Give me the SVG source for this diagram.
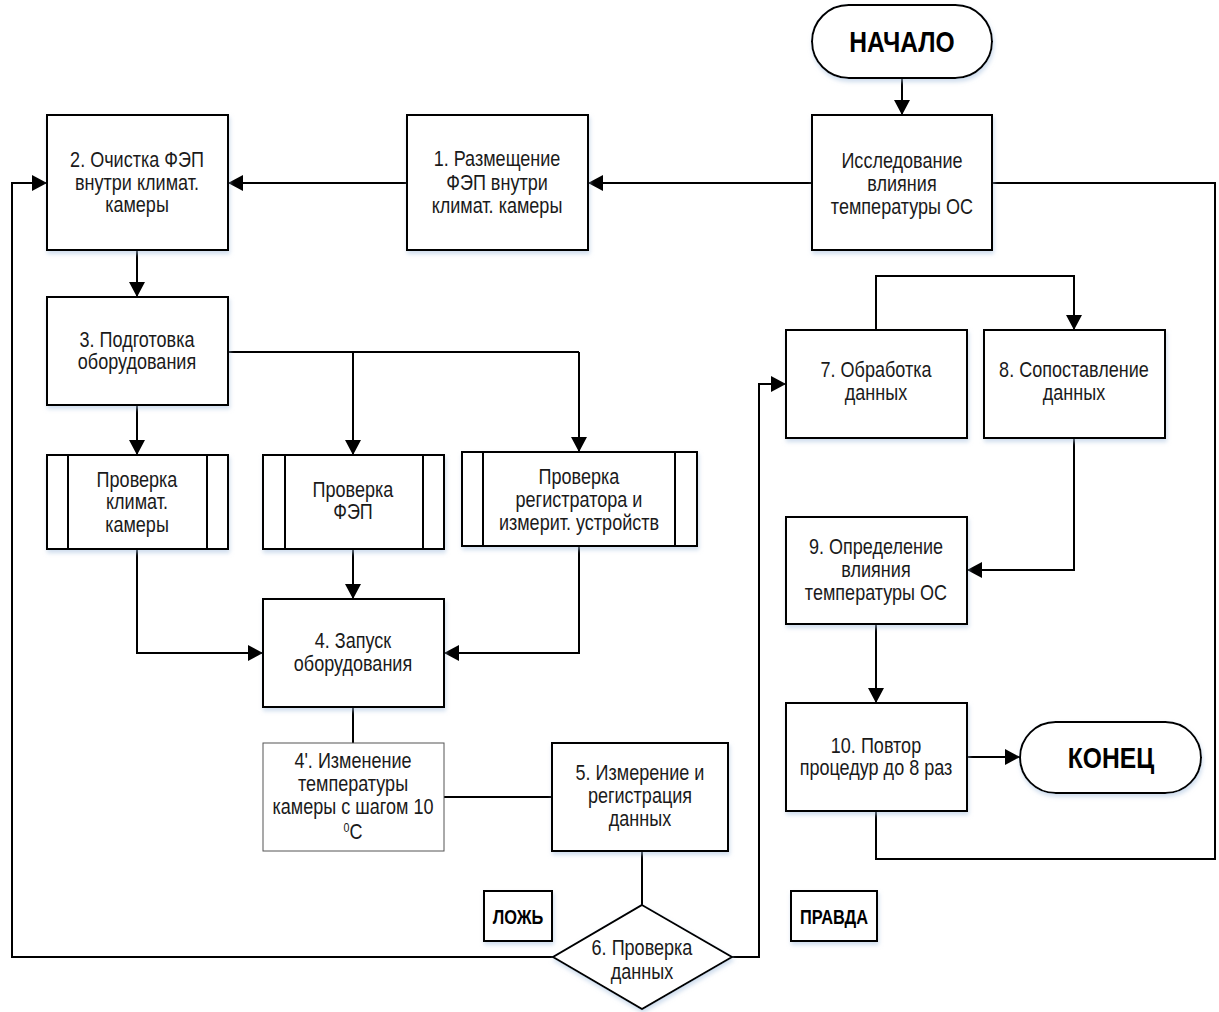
<svg xmlns="http://www.w3.org/2000/svg" width="1219" height="1012" viewBox="0 0 1219 1012">
  <style>
    .box { fill: #ffffff; stroke: #000000; stroke-width: 2; filter: url(#shade); }
    .thin { fill: #ffffff; stroke: #555555; stroke-width: 1; }
    .sub { fill: none; stroke: #000000; stroke-width: 2; }
    .t { font-family: "Liberation Sans", Arial, sans-serif; font-size: 22px; fill: #1a1a1a; text-anchor: middle; }
    .b { font-family: "Liberation Sans", Arial, sans-serif; font-weight: bold; fill: #000000; text-anchor: middle; }
    .line { fill: none; stroke: #000000; stroke-width: 2; }
    .arr { fill: none; stroke: #000000; stroke-width: 2; marker-end: url(#head); }
  </style>
  <defs>
    <marker id="head" markerUnits="userSpaceOnUse" markerWidth="16" markerHeight="16" refX="15" refY="8" orient="auto">
      <path d="M0,0 L15,8 L0,16 z" fill="#000000"/>
    </marker>
    <filter id="shade" x="-10%" y="-10%" width="125%" height="130%">
      <feDropShadow dx="1" dy="3" stdDeviation="2" flood-color="#a9c1df" flood-opacity="0.55"/>
    </filter>
  </defs>
  <rect width="1219" height="1012" fill="#ffffff"/>

  <!-- connectors -->
  <g id="connectors">
    <path class="arr" d="M902,78 V115"/>
    <path class="arr" d="M812,183 H588"/>
    <path class="line" d="M992,183 H1215 V859 H876 V811"/>
    <path class="arr" d="M407,183 H228"/>
    <path class="arr" d="M137,250 V297"/>
    <path class="arr" d="M137,405 V455"/>
    <path class="line" d="M228,352 H579"/>
    <path class="arr" d="M353,352 V455"/>
    <path class="arr" d="M579,352 V452"/>
    <path class="arr" d="M137,549 V653 H263"/>
    <path class="arr" d="M353,549 V599"/>
    <path class="arr" d="M579,546 V653 H444"/>
    <path class="line" d="M353,707 V743"/>
    <path class="line" d="M444,797 H552"/>
    <path class="line" d="M642,851 V905"/>
    <path class="arr" d="M553,957 H12 V183 H47"/>
    <path class="arr" d="M732,957 H759 V384 H786"/>
    <path class="arr" d="M876,330 V276 H1074 V330"/>
    <path class="arr" d="M1074,438 V570 H967"/>
    <path class="arr" d="M876,624 V703"/>
    <path class="arr" d="M967,757 H1020"/>
  </g>

  <!-- labels are condensed horizontally about each node's centre line -->
  <g id="start">
    <rect class="box" x="812" y="5" width="180" height="73" rx="36.5"/>
    <g transform="matrix(0.82 0 0 1 162.36 0)">
      <text class="b" x="902" y="52" font-size="30">НАЧАЛО</text>
    </g>
  </g>

  <g id="study">
    <rect class="box" x="812" y="115" width="180" height="135"/>
    <g transform="matrix(0.82 0 0 1 162.36 0)">
      <text class="t" x="902" y="168">Исследование</text>
      <text class="t" x="902" y="191">влияния</text>
      <text class="t" x="902" y="214">температуры ОС</text>
    </g>
  </g>

  <g id="step1">
    <rect class="box" x="407" y="115" width="181" height="135"/>
    <g transform="matrix(0.82 0 0 1 89.46 0)">
      <text class="t" x="497" y="166">1. Размещение</text>
      <text class="t" x="497" y="190">ФЭП внутри</text>
      <text class="t" x="497" y="213">климат. камеры</text>
    </g>
  </g>

  <g id="step2">
    <rect class="box" x="47" y="115" width="181" height="135"/>
    <g transform="matrix(0.82 0 0 1 24.66 0)">
      <text class="t" x="137" y="167">2. Очистка ФЭП</text>
      <text class="t" x="137" y="190">внутри климат.</text>
      <text class="t" x="137" y="212">камеры</text>
    </g>
  </g>

  <g id="step3">
    <rect class="box" x="47" y="297" width="181" height="108"/>
    <g transform="matrix(0.82 0 0 1 24.66 0)">
      <text class="t" x="137" y="347">3. Подготовка</text>
      <text class="t" x="137" y="369">оборудования</text>
    </g>
  </g>

  <g id="check-chamber">
    <rect class="box" x="47" y="455" width="181" height="94"/>
    <path class="sub" d="M68,455 V549 M207,455 V549"/>
    <g transform="matrix(0.82 0 0 1 24.66 0)">
      <text class="t" x="137" y="487">Проверка</text>
      <text class="t" x="137" y="509">климат.</text>
      <text class="t" x="137" y="532">камеры</text>
    </g>
  </g>

  <g id="check-pv">
    <rect class="box" x="263" y="455" width="181" height="94"/>
    <path class="sub" d="M285,455 V549 M423,455 V549"/>
    <g transform="matrix(0.82 0 0 1 63.54 0)">
      <text class="t" x="353" y="497">Проверка</text>
      <text class="t" x="353" y="519">ФЭП</text>
    </g>
  </g>

  <g id="check-logger">
    <rect class="box" x="462" y="452" width="235" height="94"/>
    <path class="sub" d="M483,452 V546 M675,452 V546"/>
    <g transform="matrix(0.82 0 0 1 104.22 0)">
      <text class="t" x="579" y="484">Проверка</text>
      <text class="t" x="579" y="507">регистратора и</text>
      <text class="t" x="579" y="530">измерит. устройств</text>
    </g>
  </g>

  <g id="step4">
    <rect class="box" x="263" y="599" width="181" height="108"/>
    <g transform="matrix(0.82 0 0 1 63.54 0)">
      <text class="t" x="353" y="648">4. Запуск</text>
      <text class="t" x="353" y="671">оборудования</text>
    </g>
  </g>

  <g id="step4a">
    <rect class="thin" x="263" y="743" width="181" height="108"/>
    <g transform="matrix(0.82 0 0 1 63.54 0)">
      <text class="t" x="353" y="768">4'. Изменение</text>
      <text class="t" x="353" y="791">температуры</text>
      <text class="t" x="353" y="814">камеры с шагом 10</text>
      <text class="t" x="353" y="839"><tspan font-size="13" dy="-7">0</tspan><tspan dy="7">C</tspan></text>
    </g>
  </g>

  <g id="step5">
    <rect class="box" x="552" y="743" width="176" height="108"/>
    <g transform="matrix(0.82 0 0 1 115.2 0)">
      <text class="t" x="640" y="780">5. Измерение и</text>
      <text class="t" x="640" y="803">регистрация</text>
      <text class="t" x="640" y="826">данных</text>
    </g>
  </g>

  <g id="step6">
    <path class="box" d="M642,905 L732,957 L642,1009 L553,957 z"/>
    <g transform="matrix(0.82 0 0 1 115.56 0)">
      <text class="t" x="642" y="955">6. Проверка</text>
      <text class="t" x="642" y="979">данных</text>
    </g>
  </g>

  <g id="label-false">
    <rect class="box" x="484" y="891" width="68" height="50"/>
    <g transform="matrix(0.82 0 0 1 93.24 0)">
      <text class="b" x="518" y="924" font-size="20">ЛОЖЬ</text>
    </g>
  </g>

  <g id="label-true">
    <rect class="box" x="791" y="891" width="86" height="50"/>
    <g transform="matrix(0.82 0 0 1 150.12 0)">
      <text class="b" x="834" y="924" font-size="20">ПРАВДА</text>
    </g>
  </g>

  <g id="step7">
    <rect class="box" x="786" y="330" width="181" height="108"/>
    <g transform="matrix(0.82 0 0 1 157.68 0)">
      <text class="t" x="876" y="377">7. Обработка</text>
      <text class="t" x="876" y="400">данных</text>
    </g>
  </g>

  <g id="step8">
    <rect class="box" x="984" y="330" width="181" height="108"/>
    <g transform="matrix(0.82 0 0 1 193.32 0)">
      <text class="t" x="1074" y="377">8. Сопоставление</text>
      <text class="t" x="1074" y="400">данных</text>
    </g>
  </g>

  <g id="step9">
    <rect class="box" x="786" y="517" width="181" height="107"/>
    <g transform="matrix(0.82 0 0 1 157.68 0)">
      <text class="t" x="876" y="554">9. Определение</text>
      <text class="t" x="876" y="577">влияния</text>
      <text class="t" x="876" y="600">температуры ОС</text>
    </g>
  </g>

  <g id="step10">
    <rect class="box" x="786" y="703" width="181" height="108"/>
    <g transform="matrix(0.82 0 0 1 157.68 0)">
      <text class="t" x="876" y="753">10. Повтор</text>
      <text class="t" x="876" y="775">процедур до 8 раз</text>
    </g>
  </g>

  <g id="end">
    <rect class="box" x="1020" y="722" width="181" height="71" rx="35.5"/>
    <g transform="matrix(0.82 0 0 1 199.98 0)">
      <text class="b" x="1111" y="768" font-size="30">КОНЕЦ</text>
    </g>
  </g>
</svg>
